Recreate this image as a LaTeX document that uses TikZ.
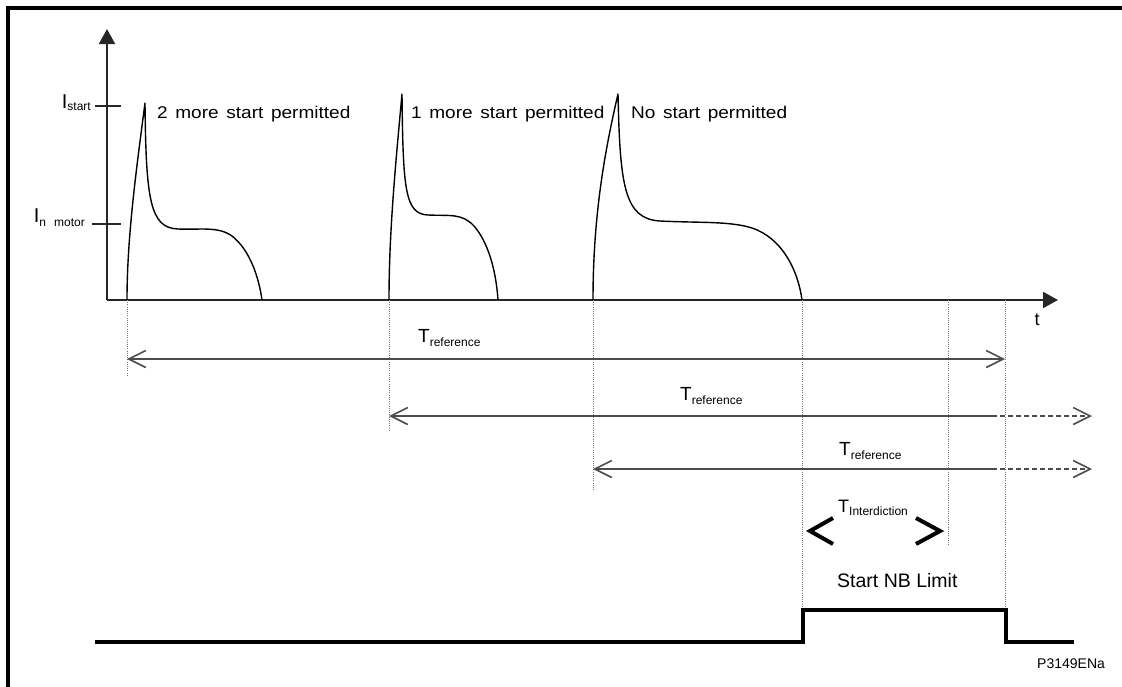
\documentclass[tikz,border=0pt]{standalone}
\usepackage{fontspec}
\usepackage{graphicx}
\setmainfont{Liberation Sans}
\usetikzlibrary{arrows.meta}

% label with a lowered subscript
\newcommand\sublabel[4]{{\fontsize{#1}{#1}\selectfont #2}\raisebox{-#4}{\fontsize{12}{12}\selectfont #3}}
% wide-set heading above each start
\newcommand\startnote[1]{{\fontsize{17}{17}\selectfont\spaceskip=0.4em\relax\scalebox{1.12}[1]{#1}}}

\begin{document}
\begin{tikzpicture}[x=1pt,y=-1pt,
    axis/.style={draw=black!85,line width=2pt},
    tick/.style={draw=black!85,line width=1.3pt},
    current/.style={draw=black,line width=1.4pt,line join=round},
    guide/.style={draw=black!55,line width=0.9pt,dash pattern=on 1pt off 1.2pt},
    span/.style={draw=black!70,line width=2pt},
    spandash/.style={span,dash pattern=on 5pt off 3pt},
    bracket/.style={draw=black,line width=4pt,line join=miter},
    signal/.style={draw=black,line width=3.5pt,line join=miter},
    lbl/.style={inner sep=0pt,anchor=base west},
    >={Straight Barb[length=17pt,width=17pt,line width=1.6pt]}]

\useasboundingbox (0,0) rectangle (1122,686);

% outer frame (top and left edges)
\draw[line width=3.2pt] (8,690) -- (8,8) -- (1125,8);

% axes
\coordinate (O) at (107,300);
\coordinate (ytop) at (107,29);
\coordinate (xend) at (1058,300);
\draw[axis,-{Triangle[length=15pt,width=16pt]}] (O) -- (ytop);
\draw[axis,-{Triangle[length=15pt,width=16pt]}] (O) -- (xend);
\node[lbl,anchor=base] (tlab) at (1037,325) {\fontsize{18}{18}\selectfont t};

% current levels on the vertical axis
\coordinate (is0) at (95,106);  \coordinate (is1) at (121,106);
\coordinate (im0) at (92,224);  \coordinate (im1) at (121,224);
\draw[tick] (is0) -- (is1);
\draw[tick] (im0) -- (im1);
\node[inner sep=0pt,anchor=base east] (istart) at (91,108) {\sublabel{20}{I}{start}{2.5pt}};
\node[inner sep=0pt,anchor=base east] (imotor) at (85,222) {\sublabel{20}{I}{n\hspace{8pt}motor}{4pt}};

% three motor starts
\draw[current] (127,300) .. controls (127,235) and (137,165) .. (145,103)
  .. controls (146,200) and (150,228) .. (178,229)
  .. controls (200,230) and (218,226) .. (232,236)
  .. controls (250,250) and (259,278) .. (262,300);
\draw[current] (389,300) .. controls (389,230) and (396,160) .. (402,94)
  .. controls (403,190) and (405,214) .. (428,215)
  .. controls (450,216) and (462,213) .. (474,226)
  .. controls (488,242) and (496,270) .. (498,300);
\draw[current] (593,300) .. controls (593,215) and (605,150) .. (618,94)
  .. controls (620,185) and (624,219) .. (660,221)
  .. controls (700,223) and (730,221) .. (752,228)
  .. controls (782,238) and (798,270) .. (802,300);

\node[lbl] (n1) at (157,118) {\startnote{2 more start permitted}};
\node[lbl] (n2) at (411,118) {\startnote{1 more start permitted}};
\node[lbl] (n3) at (631,118) {\startnote{No start permitted}};

% vertical guides
\coordinate (g1a) at (127,300);  \coordinate (g1b) at (127,375);
\coordinate (g2a) at (389,300);  \coordinate (g2b) at (389,432);
\coordinate (g3a) at (593,300);  \coordinate (g3b) at (593,490);
\coordinate (g4a) at (802,300);  \coordinate (g4b) at (802,609);
\coordinate (g5a) at (948,300);  \coordinate (g5b) at (948,545);
\coordinate (g6a) at (1005,300); \coordinate (g6b) at (1005,609);
\foreach \g in {1,...,6} \draw[guide] (g\g a) -- (g\g b);

% reference windows
\coordinate (r1a) at (127,359);  \coordinate (r1b) at (1005,359);
\coordinate (r2a) at (389,416);  \coordinate (r2m) at (992,416); \coordinate (r2b) at (1092,416);
\coordinate (r3a) at (593,469);  \coordinate (r3m) at (992,469); \coordinate (r3b) at (1092,469);
\draw[span,<->] (r1a) -- (r1b);
\draw[span,<-] (r2a) -- (r2m);
\draw[spandash,->] (r2m) -- (r2b);
\draw[span,<-] (r3a) -- (r3m);
\draw[spandash,->] (r3m) -- (r3b);
\node[lbl] (tr1) at (418,342) {\sublabel{19}{T}{reference}{4pt}};
\node[lbl] (tr2) at (680,400) {\sublabel{19}{T}{reference}{4pt}};
\node[lbl] (tr3) at (839,455) {\sublabel{19}{T}{reference}{4pt}};

% interdiction window
\draw[bracket] (833,518) -- (810,531) -- (833,544);
\draw[bracket] (916,518) -- (940,531) -- (916,544);
\node[lbl] (ti) at (838,512) {\sublabel{18}{T}{Interdiction}{3pt}};

% start limit signal
\node[lbl] (nb) at (837,587) {\fontsize{19.5}{19.5}\selectfont Start NB Limit};
\coordinate (s0) at (95,642);  \coordinate (s1) at (803,642);
\coordinate (s2) at (803,610); \coordinate (s3) at (1006,610);
\coordinate (s4) at (1006,642); \coordinate (s5) at (1074,642);
\draw[signal] (s0) -- (s1) -- (s2) -- (s3) -- (s4) -- (s5);

\node[lbl] (ref) at (1037,668) {\fontsize{14}{14}\selectfont P3149ENa};
\end{tikzpicture}
\end{document}
